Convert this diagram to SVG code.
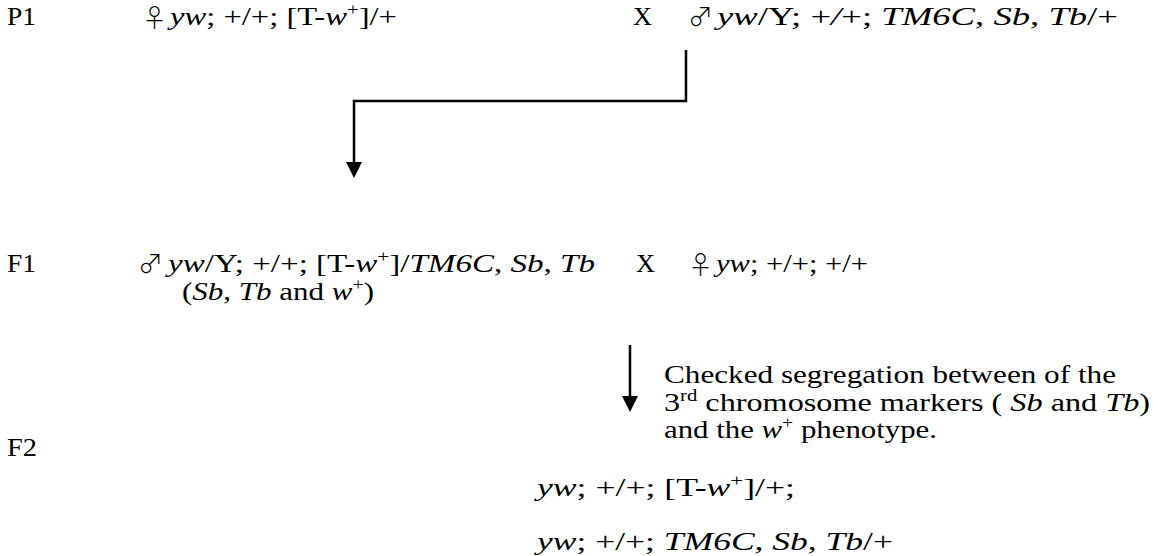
<svg xmlns="http://www.w3.org/2000/svg" width="1158" height="556" viewBox="0 0 1158 556">
<style>
text{font-family:"Liberation Serif","Times New Roman",serif;font-size:25px;fill:#000}
.i{font-style:italic}
.sym{font-family:"Noto Sans CJK JP","DejaVu Sans",sans-serif;font-weight:300;font-size:25px}
.sup{font-size:16px}
.conn{fill:none;stroke:#000;stroke-width:2.5}
</style>
<rect width="1158" height="556" fill="#fff"/>
<g id="connectors">
<path class="conn" d="M686,50 V101 H354 V163"/>
<polygon points="346,162 362,162 354,178" fill="#000"/>
<path class="conn" d="M630,345 V397"/>
<polygon points="622,396 638,396 630,412" fill="#000"/>
</g>
<g id="labels">
<text x="7" y="25" textLength="29" lengthAdjust="spacingAndGlyphs">P1</text>
<text x="7" y="272" textLength="29" lengthAdjust="spacingAndGlyphs">F1</text>
<text x="7" y="456" textLength="30" lengthAdjust="spacingAndGlyphs">F2</text>
</g>
<g id="p1-female">
<text class="sym" x="142" y="27">♀</text>
<text x="170" y="25" textLength="227" lengthAdjust="spacingAndGlyphs"><tspan class="i">yw</tspan>; +/+; [T-<tspan class="i">w</tspan><tspan class="sup" dy="-10">+</tspan><tspan dy="10">]/+</tspan></text>
</g>
<g id="p1-cross">
<text x="633" y="25" textLength="19" lengthAdjust="spacingAndGlyphs">X</text>
</g>
<g id="p1-male">
<text class="sym" x="688" y="26">♂</text>
<text x="717" y="25" textLength="401" lengthAdjust="spacingAndGlyphs"><tspan class="i">yw</tspan>/Y; +<tspan class="i">/</tspan>+; <tspan class="i">TM6C</tspan>, <tspan class="i">Sb, Tb</tspan>/+</text>
</g>
<g id="f1-male">
<text class="sym" x="138" y="273">♂</text>
<text x="168" y="272" textLength="427" lengthAdjust="spacingAndGlyphs"><tspan class="i">yw</tspan>/Y; +/+; [T-<tspan class="i">w</tspan><tspan class="sup" dy="-10">+</tspan><tspan dy="10">]/</tspan><tspan class="i">TM6C</tspan>, <tspan class="i">Sb</tspan>, <tspan class="i">Tb</tspan></text>
<text x="182" y="300" textLength="192" lengthAdjust="spacingAndGlyphs">(<tspan class="i">Sb</tspan>, <tspan class="i">Tb</tspan> and <tspan class="i">w</tspan><tspan class="sup" dy="-10">+</tspan><tspan dy="10">)</tspan></text>
</g>
<g id="f1-cross">
<text x="636" y="272" textLength="19" lengthAdjust="spacingAndGlyphs">X</text>
</g>
<g id="f1-female">
<text class="sym" x="688" y="274">♀</text>
<text x="716" y="272" textLength="152" lengthAdjust="spacingAndGlyphs"><tspan class="i">yw</tspan>; +/+; +/+</text>
</g>
<g id="note">
<text x="664" y="383" textLength="452" lengthAdjust="spacingAndGlyphs">Checked segregation between of the</text>
<text x="664" y="411" textLength="486" lengthAdjust="spacingAndGlyphs">3<tspan class="sup" dy="-10">rd</tspan><tspan dy="10"> chromosome markers ( </tspan><tspan class="i">Sb</tspan> and <tspan class="i">Tb</tspan>)</text>
<text x="664" y="438" textLength="273" lengthAdjust="spacingAndGlyphs">and the <tspan class="i">w</tspan><tspan class="sup" dy="-10">+</tspan><tspan dy="10"> phenotype.</tspan></text>
</g>
<g id="f2-a">
<text x="537" y="496" textLength="258" lengthAdjust="spacingAndGlyphs"><tspan class="i">yw</tspan>; +/+; [T-<tspan class="i">w</tspan><tspan class="sup" dy="-10">+</tspan><tspan dy="10">]/+;</tspan></text>
</g>
<g id="f2-b">
<text x="537" y="550" textLength="356" lengthAdjust="spacingAndGlyphs"><tspan class="i">yw</tspan>; +/+; <tspan class="i">TM6C, Sb, Tb</tspan>/+</text>
</g>
</svg>
